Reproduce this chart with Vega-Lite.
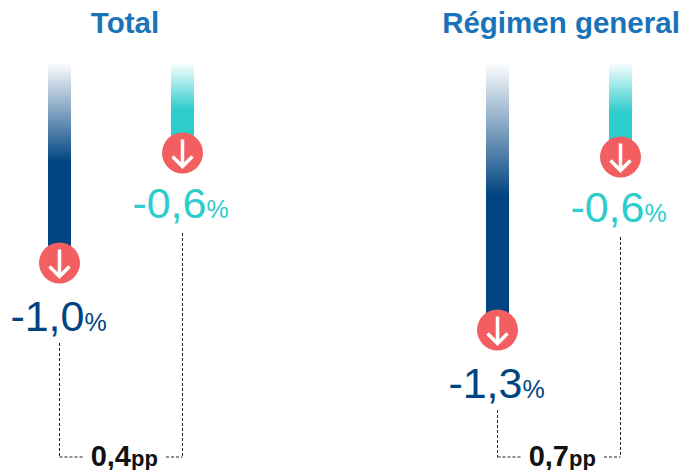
{
"$schema":"https://vega.github.io/schema/vega-lite/v6.json",
"padding":0,
"background":"white",
"data":{"values":[
{"panel":"Total","series":"a","value":-1.0,"label":"-1,0","gap":"0,4"},
{"panel":"Total","series":"b","value":-0.6,"label":"-0,6","gap":"0,4"},
{"panel":"Régimen general","series":"a","value":-1.3,"label":"-1,3","gap":"0,7"},
{"panel":"Régimen general","series":"b","value":-0.62,"label":"-0,6","gap":"0,7"}
]},
"facet":{"column":{"field":"panel","type":"nominal","sort":["Total","Régimen general"],"header":null}},
"spacing":{"column":195,"row":0},
"spec":{
"width":243,"height":470,
"encoding":{
"x":{"field":"series","type":"nominal","axis":null,"scale":{"type":"point","domain":["a","mid","b"],"range":[59.5,182.5],"padding":0}},
"y":{"field":"value","type":"quantitative","axis":null,"scale":{"domain":[0,-0.6,-0.62,-1,-1.3,-1.9],"range":[62,153,157,263,330,457],"clamp":false,"nice":false,"zero":false}}
},
"layer":[
{"transform":[{"filter":"datum.series==='a'"}],
 "mark":{"type":"bar","width":23,"color":{"gradient":"linear","x1":0,"y1":0,"x2":0,"y2":1,"stops":[{"offset":0,"color":"#ffffff"},{"offset":0.5,"color":"#004481"},{"offset":1,"color":"#004481"}]}},
 "encoding":{"y2":{"datum":0}}},
{"transform":[{"filter":"datum.series==='b'"}],
 "mark":{"type":"bar","width":23,"color":{"gradient":"linear","x1":0,"y1":0,"x2":0,"y2":1,"stops":[{"offset":0,"color":"#ffffff"},{"offset":0.53,"color":"#2DCCCD"},{"offset":1,"color":"#2DCCCD"}]}},
 "encoding":{"y2":{"datum":0}}},
{"mark":{"type":"rule","stroke":"#222222","strokeWidth":1,"strokeDash":[3,2],"yOffset":80},
 "encoding":{"y2":{"datum":-1.9}}},
{"transform":[{"filter":"datum.series==='a'"}],
 "mark":{"type":"rule","stroke":"#222222","strokeWidth":1,"strokeDash":[3,2],"x2Offset":-37},
 "encoding":{"x":{"datum":"a","type":"nominal"},"x2":{"datum":"mid"},"y":{"datum":-1.9,"type":"quantitative"}}},
{"transform":[{"filter":"datum.series==='a'"}],
 "mark":{"type":"rule","stroke":"#222222","strokeWidth":1,"strokeDash":[3,2],"xOffset":45},
 "encoding":{"x":{"datum":"mid","type":"nominal"},"x2":{"datum":"b"},"y":{"datum":-1.9,"type":"quantitative"}}},
{"mark":{"type":"point","shape":"circle","filled":true,"fill":"#F35E61","stroke":null,"opacity":1,"size":1681}},
{"mark":{"type":"point","shape":"M0,-1L0,1M-0.74,0.26L0,1L0.74,0.26","filled":false,"stroke":"#ffffff","strokeWidth":3.5,"opacity":1,"size":729}},
{"transform":[{"filter":"datum.series==='a'"}],
 "mark":{"type":"text","font":"Liberation Sans","fontSize":43,"color":"#004481","align":"right","baseline":"alphabetic","dx":25,"dy":68},
 "encoding":{"text":{"field":"label"}}},
{"transform":[{"filter":"datum.series==='a'"}],
 "mark":{"type":"text","text":"%","font":"Liberation Sans","fontSize":25,"color":"#004481","align":"left","baseline":"alphabetic","dx":25,"dy":68}},
{"transform":[{"filter":"datum.series==='b'"}],
 "mark":{"type":"text","font":"Liberation Sans","fontSize":43,"color":"#2DCCCD","align":"right","baseline":"alphabetic","dx":24,"dy":65},
 "encoding":{"text":{"field":"label"}}},
{"transform":[{"filter":"datum.series==='b'"}],
 "mark":{"type":"text","text":"%","font":"Liberation Sans","fontSize":25,"color":"#2DCCCD","align":"left","baseline":"alphabetic","dx":24,"dy":65}},
{"transform":[{"filter":"datum.series==='a' && datum.panel==='Total'"}],
 "mark":{"type":"text","font":"Liberation Sans","fontSize":29.5,"fontWeight":"bold","color":"#1973B8","align":"center","baseline":"alphabetic","dx":4,"dy":-29},
 "encoding":{"x":{"datum":"mid","type":"nominal"},"y":{"datum":0,"type":"quantitative"},"text":{"field":"panel"}}},
{"transform":[{"filter":"datum.series==='a' && datum.panel!=='Total'"}],
 "mark":{"type":"text","font":"Liberation Sans","fontSize":29.5,"fontWeight":"bold","color":"#1973B8","align":"center","baseline":"alphabetic","dx":2,"dy":-29},
 "encoding":{"x":{"datum":"mid","type":"nominal"},"y":{"datum":0,"type":"quantitative"},"text":{"field":"panel"}}},
{"transform":[{"filter":"datum.series==='a'"}],
 "mark":{"type":"text","font":"Liberation Sans","fontSize":29,"fontWeight":"bold","color":"#121212","align":"right","baseline":"alphabetic","dx":10,"dy":9},
 "encoding":{"x":{"datum":"mid","type":"nominal"},"y":{"datum":-1.9,"type":"quantitative"},"text":{"field":"gap"}}},
{"transform":[{"filter":"datum.series==='a'"}],
 "mark":{"type":"text","text":"pp","font":"Liberation Sans","fontSize":22,"fontWeight":"bold","color":"#121212","align":"left","baseline":"alphabetic","dx":10,"dy":9},
 "encoding":{"x":{"datum":"mid","type":"nominal"},"y":{"datum":-1.9,"type":"quantitative"}}}
]
},
"config":{"view":{"stroke":null},"axis":{"disable":true}}
}
